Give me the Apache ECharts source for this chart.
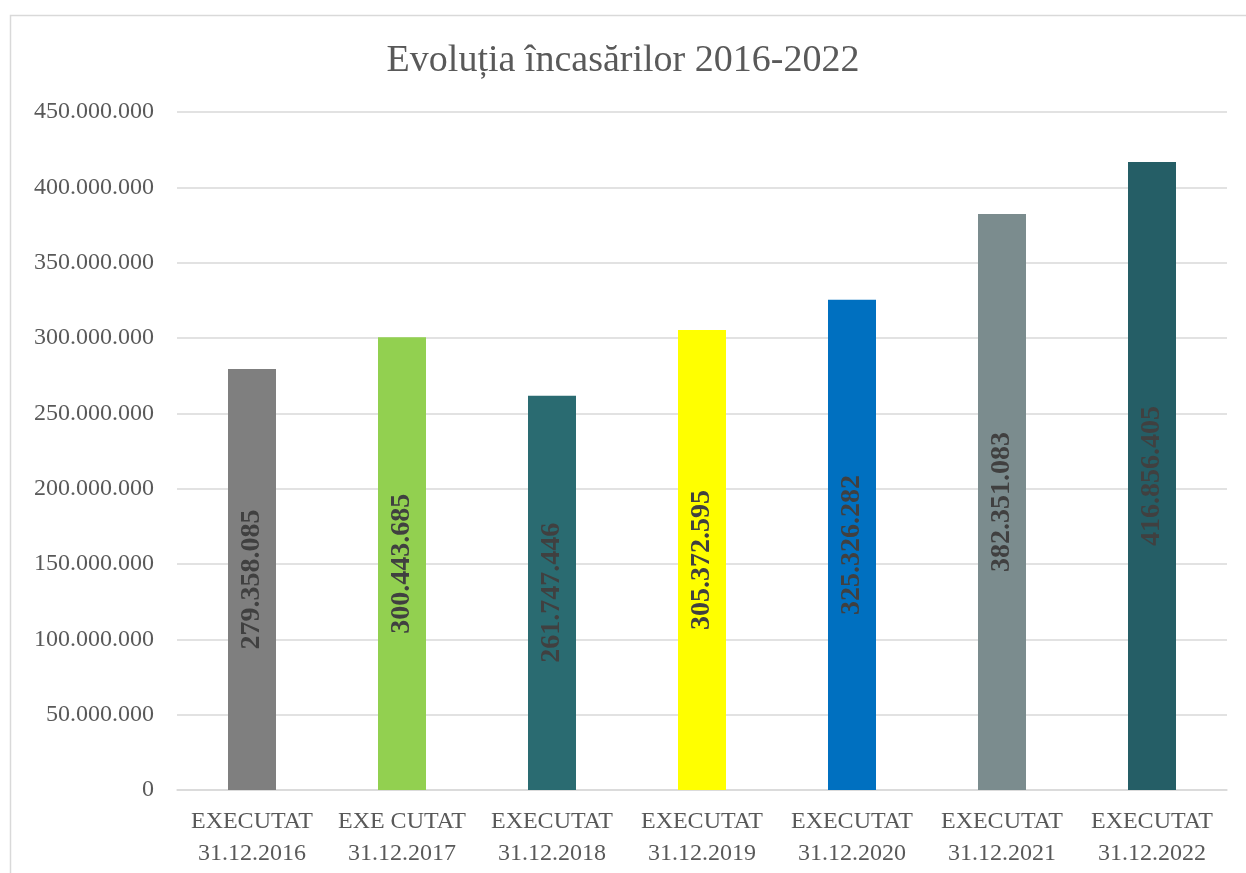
<!DOCTYPE html>
<html>
<head>
<meta charset="utf-8">
<script src="https://cdn.jsdelivr.net/npm/echarts@6/dist/echarts.min.js"></script>
<style>
html,body{margin:0;padding:0;background:#fff;}
#c{width:1246px;height:873px;}
</style>
</head>
<body>
<div id="c"></div>
<script>
const title = 'Evoluția încasărilor 2016-2022';
const categories = ['EXECUTAT\n31.12.2016','EXE CUTAT\n31.12.2017','EXECUTAT\n31.12.2018','EXECUTAT\n31.12.2019','EXECUTAT\n31.12.2020','EXECUTAT\n31.12.2021','EXECUTAT\n31.12.2022'];
const values = [279358085, 300443685, 261747446, 305372595, 325326282, 382351083, 416856405];
const barColors = ['#7f7f7f','#92d050','#2a6b71','#ffff00','#0070c0','#7b8c8e','#255e66'];
const yMin = 0, yMax = 450000000, yStep = 50000000;

function fmt(v){
  return String(Math.round(v)).replace(/\B(?=(\d{3})+(?!\d))/g, '.');
}
const FONT = '"Liberation Serif", "DejaVu Serif", serif';
const chart = echarts.init(document.getElementById('c'));
chart.setOption({
  backgroundColor: '#fff',
  animation: false,
  graphic: [{
    type: 'rect', left: 8, top: 13,
    shape: {width: 1400, height: 1000},
    style: {fill: 'none', stroke: '#d9d9d9', lineWidth: 1.5},
    silent: true, z: -1
  }],
  title: {
    text: title, left: 'center', top: 37,
    textStyle: {fontFamily: FONT, fontSize: 38, fontWeight: 'normal', color: '#595959'}
  },
  grid: {left: 177, right: 19, top: 112, bottom: 83, containLabel: false},
  xAxis: {
    type: 'category', data: categories,
    axisLine: {lineStyle: {color: '#d9d9d9', width: 1.5}},
    axisTick: {show: false},
    axisLabel: {fontFamily: FONT, fontSize: 24, color: '#595959', lineHeight: 32, margin: 16, interval: 0}
  },
  yAxis: {
    type: 'value', min: yMin, max: yMax, interval: yStep,
    axisLine: {show: false}, axisTick: {show: false},
    splitLine: {lineStyle: {color: '#d9d9d9', width: 1.5}},
    axisLabel: {fontFamily: FONT, fontSize: 24, color: '#595959', margin: 23, formatter: v => fmt(v)}
  },
  series: [{
    type: 'bar',
    barWidth: 48,
    data: values.map((v, i) => ({value: v, itemStyle: {color: barColors[i]}})),
    label: {
      show: true, position: 'inside', rotate: 90,
      fontFamily: FONT, fontSize: 28, fontWeight: 'bold', color: '#404040',
      formatter: p => fmt(p.value)
    }
  }]
});
</script>
</body>
</html>
